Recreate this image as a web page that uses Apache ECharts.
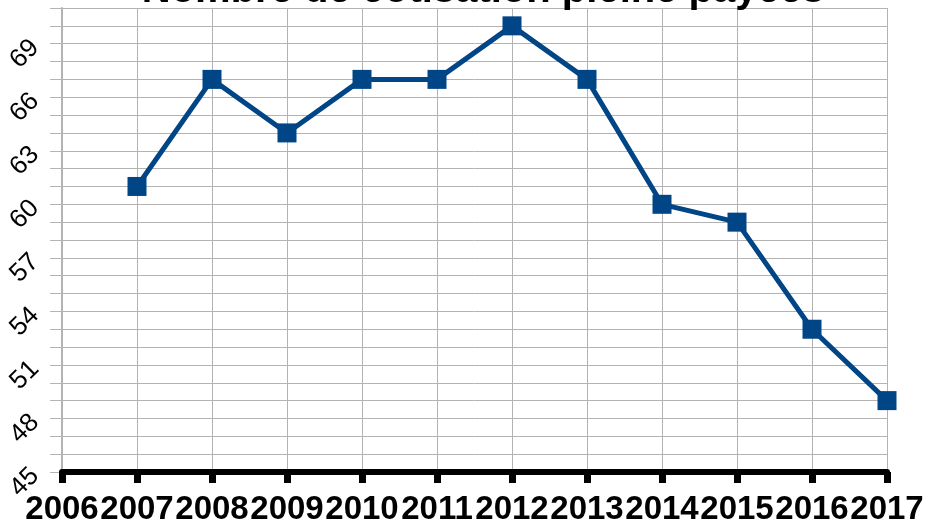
<!DOCTYPE html>
<html>
<head>
<meta charset="utf-8">
<script src="https://cdn.jsdelivr.net/npm/echarts@6/dist/echarts.min.js"></script>
<style>
  html, body { margin: 0; padding: 0; background: #fff; }
  #chart { width: 929px; height: 527px; }
</style>
</head>
<body>
<div id="chart"></div>
<script>
  const titleText = 'Nombre de cotisation pleine payées'
  const years = ['2006', '2007', '2008', '2009', '2010', '2011', '2012', '2013', '2014', '2015', '2016', '2017']
  const cotisations = [null, 61, 67, 64, 67, 67, 70, 67, 60, 59, 53, 49]
  const yMin = 45
  const yMax = 71

  const gridColor = '#b3b3b3'
  const chart = echarts.init(document.getElementById('chart'))

  const option = {
    animation: false,
    title: {
      text: titleText,
      left: 478,
      top: -34,
      textAlign: 'center',
      textStyle: {
        fontFamily: 'Liberation Sans',
        fontSize: 40,
        fontWeight: 'bold',
        color: '#000'
      }
    },
    grid: {
      left: 62,
      right: 42,
      top: 8,
      bottom: 55
    },
    xAxis: {
      type: 'category',
      data: years,
      boundaryGap: false,
      axisLine: { lineStyle: { color: '#000', width: 6 } },
      axisTick: { show: true, interval: 0, length: 11, lineStyle: { color: '#000', width: 7 } },
      axisLabel: {
        interval: 0,
        margin: 21,
        fontFamily: 'Liberation Sans',
        fontSize: 33,
        fontWeight: 'bold',
        color: '#000'
      },
      splitLine: { show: true, interval: 0, lineStyle: { color: gridColor, width: 1 } }
    },
    yAxis: {
      type: 'value',
      min: yMin,
      max: yMax,
      interval: 1,
      axisLine: { show: true, lineStyle: { color: gridColor, width: 2 } },
      axisTick: { show: true, length: 12, lineStyle: { color: gridColor, width: 1 } },
      axisLabel: {
        rotate: 45,
        margin: 27,
        fontFamily: 'Liberation Sans',
        fontSize: 26,
        color: '#000',
        formatter: (v) => ((v - yMin) % 3 === 0 && v < 70 ? String(v) : '')
      },
      splitLine: { show: true, lineStyle: { color: gridColor, width: 1 } }
    },
    series: [
      {
        type: 'line',
        data: cotisations,
        symbol: 'rect',
        symbolSize: 19,
        showAllSymbol: true,
        lineStyle: { color: '#004586', width: 5 },
        itemStyle: { color: '#004586' }
      }
    ]
  }

  chart.setOption(option)
</script>
</body>
</html>
